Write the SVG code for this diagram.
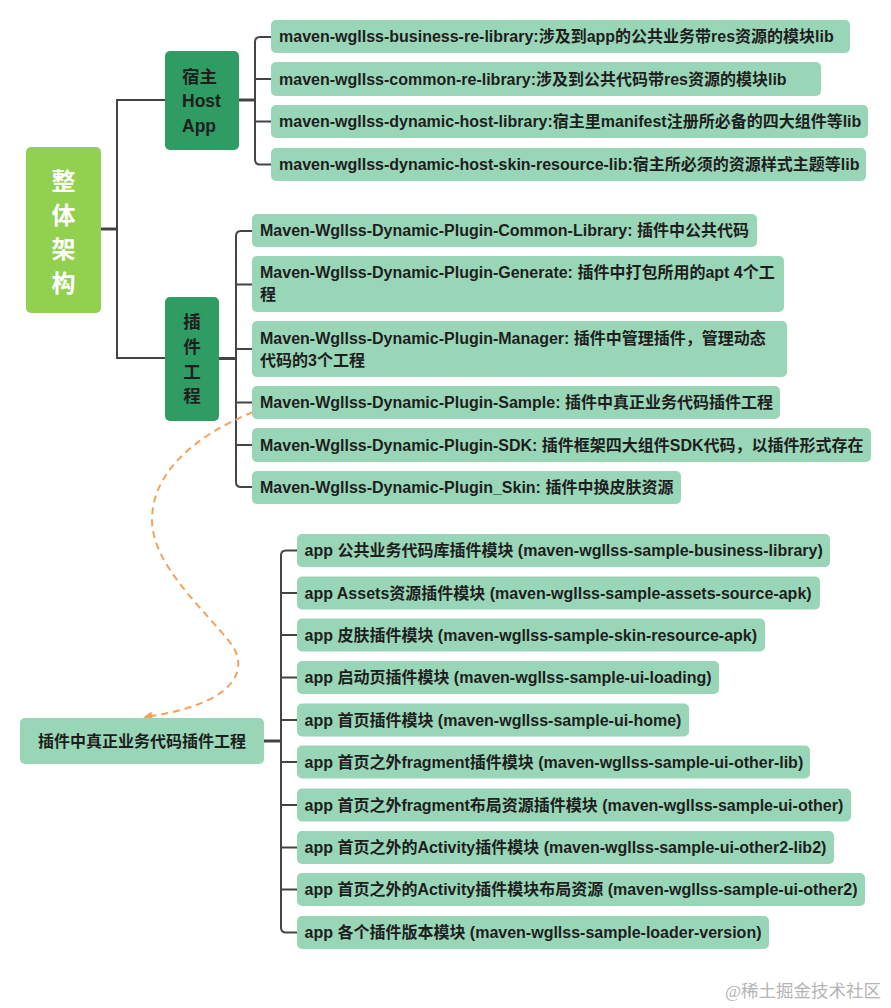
<svg xmlns="http://www.w3.org/2000/svg" width="891" height="1008" viewBox="0 0 891 1008">
<defs>
<style>
.leaf{fill:#99d6b7;}
.dark{fill:#2f9c63;}
.root{fill:#92d050;}
.t{font-family:"Liberation Sans","Noto Sans CJK SC",sans-serif;font-weight:bold;font-size:16px;fill:#1e1e1e;}
.tb{font-family:"Liberation Sans","Noto Sans CJK SC",sans-serif;font-weight:bold;font-size:17.5px;fill:#1e1e1e;}
.tr{font-family:"Liberation Sans","Noto Sans CJK SC",sans-serif;font-weight:bold;font-size:24px;fill:#ffffff;text-anchor:middle;}
.c{fill:none;stroke:#444444;stroke-width:2;}
.ct{fill:none;stroke:#444444;stroke-width:3;}
.wm{font-family:"Liberation Serif","Noto Sans CJK SC",serif;font-size:17.5px;fill:#b4b4b4;}
</style>
<marker id="ah" viewBox="0 0 10 10" refX="8" refY="5" markerWidth="10" markerHeight="9" orient="auto" markerUnits="userSpaceOnUse">
<path d="M0,0 L10,5 L0,10 z" fill="#f4a15a"/>
</marker>
</defs>
<rect width="891" height="1008" fill="#ffffff"/>

<g id="connectors">
<path class="ct" d="M101 229 H117"/>
<path class="c" d="M165 100 H117 V358 H165"/>
<path class="ct" d="M239 100 H255"/>
<path class="c" d="M271 37 H260 Q255 37 255 42 V159.5 Q255 164.5 260 164.5 H271"/>
<path class="c" d="M255 79 H271 M255 121.5 H271"/>
<path class="ct" d="M219 358.5 H236"/>
<path class="c" d="M252 231 H241 Q236 231 236 236 V482 Q236 487 241 487 H252"/>
<path class="c" d="M236 284.5 H252 M236 349 H252 M236 402.5 H252 M236 445 H252"/>
<path class="ct" d="M264 741 H281"/>
<path class="c" d="M297 550.5 H286 Q281 550.5 281 555.5 V927.5 Q281 932.5 286 932.5 H297"/>
<path class="c" d="M281 593 H297 M281 635 H297 M281 677.5 H297 M281 720 H297 M281 762 H297 M281 805 H297 M281 847.5 H297 M281 889.5 H297"/>
<path d="M253 412 C190 438 152 475 152 520 C152 565 205 610 232 645 C250 672 232 705 145 717" fill="none" stroke="#f4a15a" stroke-width="2" stroke-dasharray="7 5" marker-end="url(#ah)"/>
</g>

<g id="root">
<rect class="root" x="26" y="147" width="75" height="166" rx="5"/>
<text class="tr" x="63.5" y="190">整</text>
<text class="tr" x="63.5" y="224">体</text>
<text class="tr" x="63.5" y="258">架</text>
<text class="tr" x="63.5" y="292">构</text>
</g>

<g id="host">
<rect class="dark" x="165" y="51" width="74" height="99" rx="5"/>
<text class="tb" x="182" y="83">宿主</text>
<text class="tb" x="182" y="107">Host</text>
<text class="tb" x="182" y="132">App</text>
</g>

<g id="host-1"><rect class="leaf" x="271" y="20" width="579" height="33" rx="5"/><text class="t" x="279" y="42">maven-wgllss-business-re-library:涉及到app的公共业务带res资源的模块lib</text></g>
<g id="host-2"><rect class="leaf" x="271" y="62" width="550" height="34" rx="5"/><text class="t" x="279" y="84.5">maven-wgllss-common-re-library:涉及到公共代码带res资源的模块lib</text></g>
<g id="host-3"><rect class="leaf" x="271" y="105" width="597" height="33" rx="5"/><text class="t" x="279" y="127">maven-wgllss-dynamic-host-library:宿主里manifest注册所必备的四大组件等lib</text></g>
<g id="host-4"><rect class="leaf" x="271" y="148" width="595" height="33" rx="5"/><text class="t" x="279" y="170">maven-wgllss-dynamic-host-skin-resource-lib:宿主所必须的资源样式主题等lib</text></g>

<g id="plugin">
<rect class="dark" x="165" y="297" width="54" height="124" rx="5"/>
<text class="tb" x="192" y="328" text-anchor="middle">插</text>
<text class="tb" x="192" y="353" text-anchor="middle">件</text>
<text class="tb" x="192" y="378" text-anchor="middle">工</text>
<text class="tb" x="192" y="402" text-anchor="middle">程</text>
</g>

<g id="plugin-1"><rect class="leaf" x="252" y="214" width="505" height="33" rx="5"/><text class="t" x="260" y="236">Maven-Wgllss-Dynamic-Plugin-Common-Library: 插件中公共代码</text></g>
<g id="plugin-2"><rect class="leaf" x="252" y="256" width="532" height="56" rx="5"/><text class="t" x="260" y="278">Maven-Wgllss-Dynamic-Plugin-Generate: 插件中打包所用的apt 4个工</text><text class="t" x="260" y="300">程</text></g>
<g id="plugin-3"><rect class="leaf" x="252" y="321" width="535" height="56" rx="5"/><text class="t" x="260" y="343.5">Maven-Wgllss-Dynamic-Plugin-Manager: 插件中管理插件，管理动态</text><text class="t" x="260" y="365.5">代码的3个工程</text></g>
<g id="plugin-4"><rect class="leaf" x="252" y="386" width="528" height="33" rx="5"/><text class="t" x="260" y="408">Maven-Wgllss-Dynamic-Plugin-Sample: 插件中真正业务代码插件工程</text></g>
<g id="plugin-5"><rect class="leaf" x="252" y="428" width="619" height="34" rx="5"/><text class="t" x="260" y="450.5">Maven-Wgllss-Dynamic-Plugin-SDK: 插件框架四大组件SDK代码，以插件形式存在</text></g>
<g id="plugin-6"><rect class="leaf" x="252" y="471" width="429" height="33" rx="5"/><text class="t" x="260" y="493">Maven-Wgllss-Dynamic-Plugin_Skin: 插件中换皮肤资源</text></g>

<g id="sample">
<rect class="leaf" x="20" y="718" width="244" height="46" rx="5"/>
<text class="t" x="142" y="747" text-anchor="middle">插件中真正业务代码插件工程</text>
</g>

<g id="sample-1"><rect class="leaf" x="297" y="534" width="533" height="33" rx="5"/><text class="t" x="304.5" y="556">app 公共业务代码库插件模块 (maven-wgllss-sample-business-library)</text></g>
<g id="sample-2"><rect class="leaf" x="297" y="576.5" width="523" height="33" rx="5"/><text class="t" x="304.5" y="598.5">app Assets资源插件模块 (maven-wgllss-sample-assets-source-apk)</text></g>
<g id="sample-3"><rect class="leaf" x="297" y="618.5" width="468" height="33" rx="5"/><text class="t" x="304.5" y="640.5">app 皮肤插件模块 (maven-wgllss-sample-skin-resource-apk)</text></g>
<g id="sample-4"><rect class="leaf" x="297" y="661" width="422" height="33" rx="5"/><text class="t" x="304.5" y="683">app 启动页插件模块 (maven-wgllss-sample-ui-loading)</text></g>
<g id="sample-5"><rect class="leaf" x="297" y="703.5" width="392" height="33" rx="5"/><text class="t" x="304.5" y="725.5">app 首页插件模块 (maven-wgllss-sample-ui-home)</text></g>
<g id="sample-6"><rect class="leaf" x="297" y="745.5" width="513" height="33" rx="5"/><text class="t" x="304.5" y="767.5">app 首页之外fragment插件模块 (maven-wgllss-sample-ui-other-lib)</text></g>
<g id="sample-7"><rect class="leaf" x="297" y="788.5" width="554" height="33" rx="5"/><text class="t" x="304.5" y="810.5">app 首页之外fragment布局资源插件模块 (maven-wgllss-sample-ui-other)</text></g>
<g id="sample-8"><rect class="leaf" x="297" y="831" width="537" height="33" rx="5"/><text class="t" x="304.5" y="853">app 首页之外的Activity插件模块 (maven-wgllss-sample-ui-other2-lib2)</text></g>
<g id="sample-9"><rect class="leaf" x="297" y="873" width="568" height="33" rx="5"/><text class="t" x="304.5" y="895">app 首页之外的Activity插件模块布局资源 (maven-wgllss-sample-ui-other2)</text></g>
<g id="sample-10"><rect class="leaf" x="297" y="916" width="472" height="33" rx="5"/><text class="t" x="304.5" y="938">app 各个插件版本模块 (maven-wgllss-sample-loader-version)</text></g>

<text class="wm" x="725" y="997">@稀土掘金技术社区</text>
</svg>
